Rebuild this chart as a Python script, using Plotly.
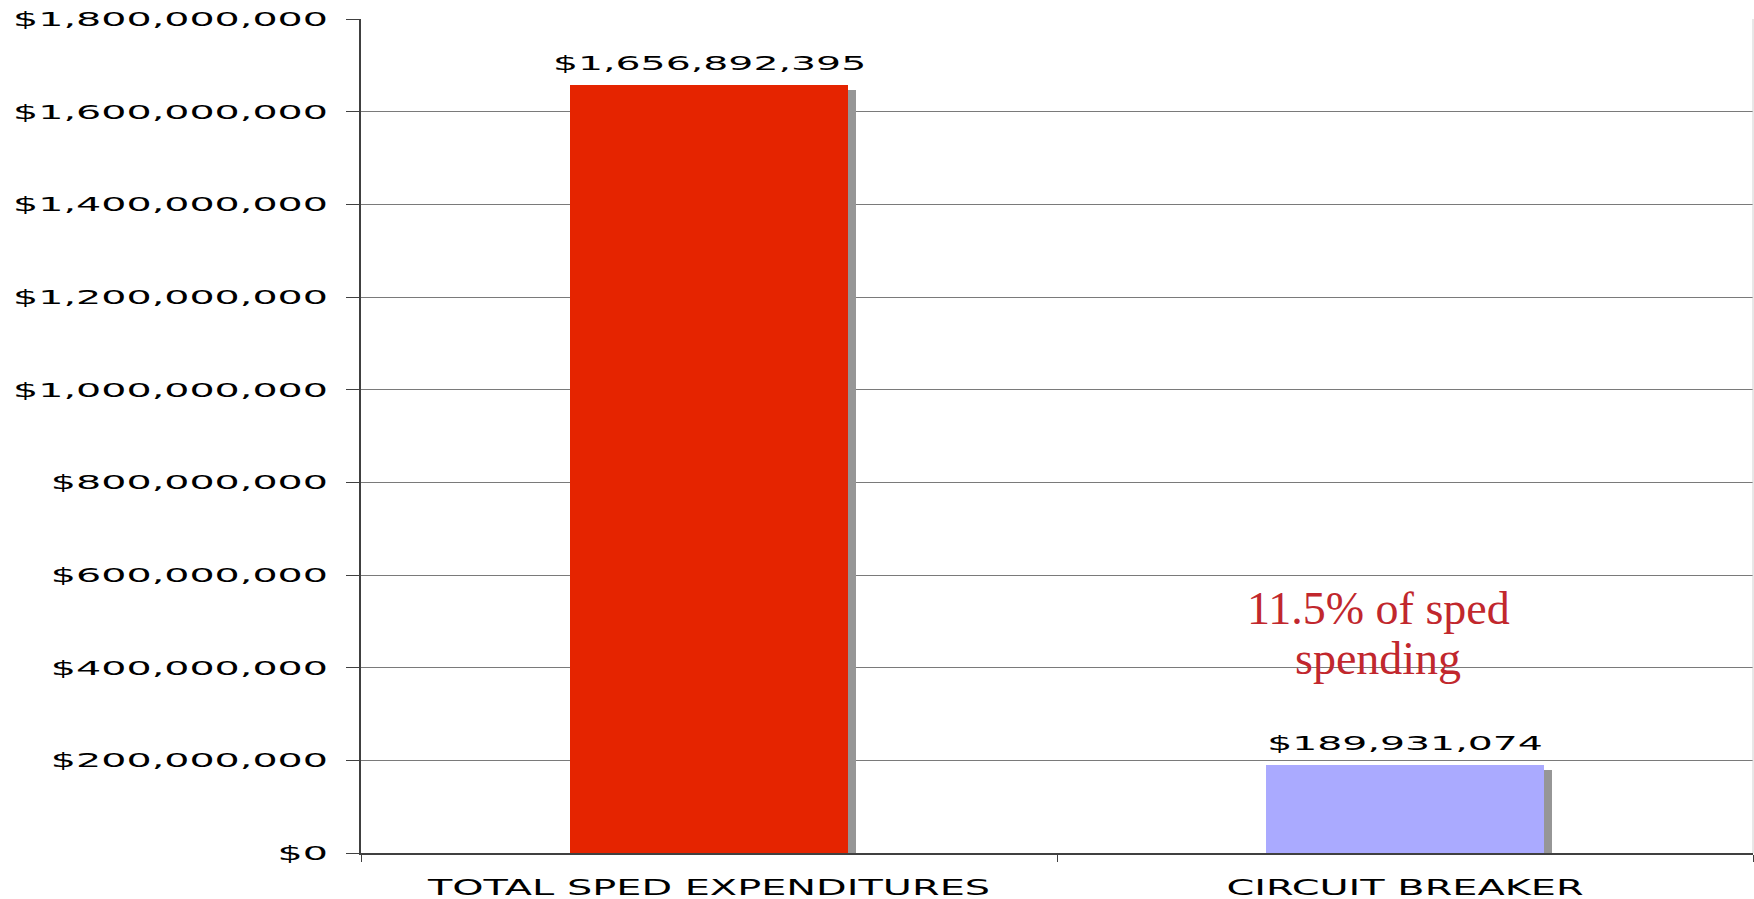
import plotly.graph_objects as go

categories = ["TOTAL SPED EXPENDITURES", "CIRCUIT BREAKER"]
values = [1656892395, 189931074]
bar_colors = ["#E52400", "#AAAAFF"]
note_lines = ["11.5% of sped", "spending"]

Y_MAX = 1800000000
Y_STEP = 200000000

# style constants
W, H = 1754, 899
M_L, M_R, M_T, M_B = 361, 1, 19, 46
plot_w = W - M_L - M_R
plot_h = H - M_T - M_B
BAR_W = 0.4
SHADOW_DX = 8 / (plot_w / len(categories))     # 8 px right
SHADOW_DY = 4.5 * Y_MAX / plot_h                # 4.5 px down

fig = go.Figure()
# shadows
fig.add_trace(go.Bar(
    x=categories, y=values, base=[-SHADOW_DY] * len(values),
    width=BAR_W, offset=-BAR_W / 2 + SHADOW_DX,
    marker=dict(color="#969696", line=dict(width=0)),
    hoverinfo="skip", showlegend=False,
))
# main bars
fig.add_trace(go.Bar(
    x=categories, y=values,
    width=BAR_W, offset=-BAR_W / 2,
    marker=dict(color=bar_colors, line=dict(width=0)),
    showlegend=False,
))

annotations = []
for c, v in zip(categories, values):
    annotations.append(dict(
        x=c, y=v, xref="x", yref="y", text="${:,}".format(v),
        showarrow=False, yanchor="bottom", yshift=8,
        font=dict(family="DejaVu Sans", size=20, color="#000000"),
    ))
note_font = dict(family="Liberation Serif", size=46, color="#C1272D")
annotations.append(dict(x=categories[1], y=0.2926, xref="x", yref="paper",
                        text=note_lines[0], showarrow=False, xshift=-27,
                        yanchor="middle", font=note_font))
annotations.append(dict(x=categories[1], y=0.233, xref="x", yref="paper",
                        text=note_lines[1], showarrow=False, xshift=-27,
                        yanchor="middle", font=note_font))

fig.update_layout(
    width=W, height=H,
    margin=dict(l=M_L, r=M_R, t=M_T, b=M_B, autoexpand=False),
    paper_bgcolor="white", plot_bgcolor="white",
    barmode="overlay", bargap=0,
    annotations=annotations,
    shapes=[dict(type="line", xref="paper", yref="paper", x0=1, x1=1, y0=0, y1=1,
                 line=dict(color="#D0D0D0", width=1))],
    xaxis=dict(
        type="category", range=[-0.5, 1.5],
        showline=True, linecolor="#404040", linewidth=2,
        ticks="outside", tickson="boundaries", ticklen=7, tickcolor="#404040",
        showgrid=False, zeroline=False,
        tickfont=dict(family="DejaVu Sans", size=22, color="#000000"),
        ticklabelstandoff=14,
        automargin=False,
    ),
    yaxis=dict(
        range=[0, Y_MAX], dtick=Y_STEP, tick0=0,
        tickprefix="$", tickformat=",d",
        showline=True, linecolor="#404040", linewidth=2,
        ticks="outside", ticklen=13, tickcolor="#404040",
        showgrid=True, gridcolor="#7A7A7A", gridwidth=1,
        zeroline=False,
        tickfont=dict(family="DejaVu Sans", size=20, color="#000000"),
        ticklabelstandoff=14,
        automargin=False,
    ),
)

post = """
var gd = document.getElementById('{plot_id}');
function stretch(nodes, f){
  nodes.forEach(function(t){
    var w = t.getComputedTextLength();
    t.setAttribute('textLength', w * f);
    t.setAttribute('lengthAdjust', 'spacingAndGlyphs');
  });
}
stretch(gd.querySelectorAll('.ytick text'), 1.98);
stretch(gd.querySelectorAll('.xtick text'), 1.81);
var ann = gd.querySelectorAll('.annotation-text');
stretch([ann[0], ann[1]], 1.97);
"""

fig.write_html("out.html", post_script=post)
